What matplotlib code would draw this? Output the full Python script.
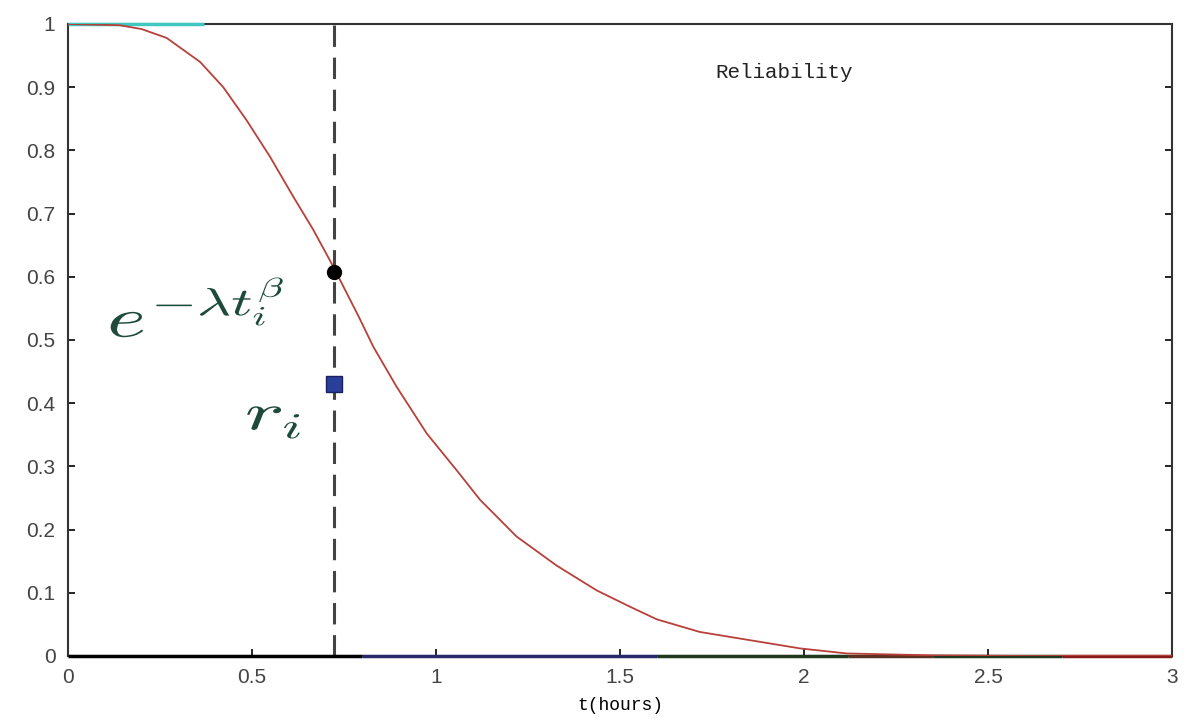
import matplotlib.pyplot as plt
from matplotlib.textpath import TextPath
from matplotlib.patches import PathPatch
from matplotlib.transforms import Affine2D

plt.rcParams['mathtext.fontset'] = 'cm'

# Reliability curve
t = [0.0, 0.141, 0.20, 0.268, 0.359, 0.422, 0.485, 0.549, 0.612, 0.667, 0.721,
     0.748, 0.790, 0.830, 0.893, 0.975, 1.056, 1.120, 1.219, 1.328, 1.436,
     1.527, 1.60, 1.717, 1.853, 1.989, 2.116, 2.35, 2.6, 3.0]
R = [1.0, 0.998, 0.992, 0.978, 0.940, 0.900, 0.848, 0.790, 0.727, 0.674, 0.616,
     0.585, 0.537, 0.489, 0.426, 0.352, 0.294, 0.247, 0.189, 0.143, 0.104,
     0.078, 0.058, 0.038, 0.025, 0.012, 0.004, 0.001, 0.0, 0.0]

# marked point t_i
t_i = 0.723
model_val = 0.608
r_i = 0.43

# flat lines along the limits (other series)
flat_segments = [
    ([0.0, 0.37], [1.0, 1.0], '#40c8c0'),
    ([0.0, 0.80], [0.0, 0.0], '#000000'),
    ([0.80, 1.60], [0.0, 0.0], '#2a2a6a'),
    ([1.60, 2.12], [0.0, 0.0], '#1f3a1f'),
    ([2.12, 2.35], [0.0, 0.0], '#5a3020'),
    ([2.35, 2.70], [0.0, 0.0], '#1f3a1f'),
    ([2.70, 3.0], [0.0, 0.0], '#8a1a1a'),
]

fig = plt.figure(figsize=(11.86, 7.25), dpi=100)
ax = fig.add_axes([0.0573, 0.0952, 0.9309, 0.8717])
ax.set_xlim(0, 3)
ax.set_ylim(0, 1)

for xs, ys, c in flat_segments:
    ax.plot(xs, ys, color=c, lw=2.5, solid_capstyle='butt', clip_on=False, zorder=3)

ax.plot(t, R, color='#b8403a', lw=1.3, zorder=4)
ax.axvline(t_i, color='#444444', lw=2.2, ls=(0, (7, 3.5)), zorder=2)
ax.plot([t_i], [model_val], 'o', color='black', ms=10, zorder=5)
ax.plot([t_i], [r_i], 's', color='#2a3f9a', mec='#1a2060', ms=12, zorder=5)


# the equation labels look stretched sideways in the original, so draw them as paths
def wide_text(x, y, s, size, sx, color):
    tp = TextPath((0, 0), s, size=size)
    x0, y0 = ax.transData.transform((x, y))
    tr = Affine2D().scale(sx, 1).translate(x0, y0)
    ax.add_patch(PathPatch(tp, transform=tr, facecolor=color, edgecolor='none', zorder=6))


wide_text(0.106, 0.505, r'$e^{-\lambda t_i^{\beta}}$', 56, 1.5, '#1e4a3c')
wide_text(0.481, 0.358, r'$r_i$', 52, 1.6, '#1e4a3c')

ax.text(1.76, 0.915, 'Reliability', fontsize=15, family='Liberation Mono', color='#222222')

ax.set_xticks([0, 0.5, 1, 1.5, 2, 2.5, 3])
ax.set_xticklabels(['0', '0.5', '1', '1.5', '2', '2.5', '3'])
ax.set_yticks([0, 0.1, 0.2, 0.3, 0.4, 0.5, 0.6, 0.7, 0.8, 0.9, 1])
ax.set_yticklabels(['0', '0.1', '0.2', '0.3', '0.4', '0.5', '0.6', '0.7', '0.8', '0.9', '1'])
ax.tick_params(direction='in', length=5, width=1.2, right=True,
               labelsize=15, labelcolor='#444444', pad=9)
for lbl in ax.get_xticklabels() + ax.get_yticklabels():
    lbl.set_family('Liberation Sans')
for s in ax.spines.values():
    s.set_linewidth(1.5)
    s.set_color('#333333')
ax.set_xlabel('t(hours)', fontsize=13, family='Liberation Mono', labelpad=7)

fig.savefig('out.png', dpi=100)
